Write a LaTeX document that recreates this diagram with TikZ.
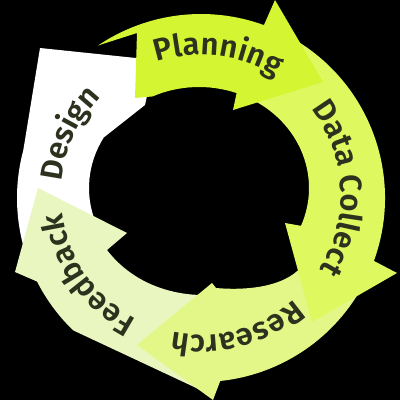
\documentclass[tikz,border=0pt]{standalone}
\usepackage{fontspec}
\setmainfont{Fira Sans}[BoldFont={Fira Sans SemiBold}]
\usetikzlibrary{calc,decorations.text}
\definecolor{cPlan}{RGB}{212,245,50}
\definecolor{cData}{RGB}{222,249,95}
\definecolor{cRes}{RGB}{226,247,135}
\definecolor{cFeed}{RGB}{233,246,192}
\definecolor{cDes}{RGB}{255,255,255}
\definecolor{txt}{RGB}{45,50,30}
\begin{document}
\begin{tikzpicture}[x=1pt,y=1pt,
  lbl/.style={decorate, decoration={text along path, text align=center, text color=txt}}]
\fill[black] (0,0) rectangle (400,400);
\useasboundingbox (0,0) rectangle (400,400);
\coordinate (Co) at (201,202);
\coordinate (Ci) at (199,212);
\coordinate (Ct) at (201,205);
% Design
\fill[cDes] ($(Ci)+(200:110 and 101)$) -- ($(Co)+(200:184)$) arc[start angle=200, end angle=165, radius=184] -- (40,352) -- (155,340) -- (145,295) -- ($(Ci)+(150:110 and 101)$) arc[start angle=150, end angle=200, x radius=110, y radius=101] -- cycle;
% Feedback
\fill[cFeed] (205,100) -- (207,7) -- ($(Co)+(226:184)$) arc[start angle=226, end angle=207, radius=184] -- (15,128) -- (38,212) -- (127,167) -- (107,150) .. controls (130,120) and (165,106) .. (200,105) -- cycle;
% Research
\fill[cRes] (305,138) -- ($(Co)+(-30:184)$) arc[start angle=-30, end angle=-84, radius=184] -- (213,0) -- (137,55) -- (212,117) -- (216,112) .. controls (250,109) and (290,114) .. (305,138) -- cycle;
% Data Collect
\fill[cData] ($(Ci)+(60:110 and 101)$) -- ($(Co)+(62:184)$) arc[start angle=62, end angle=-20, radius=184] -- (397,127) -- (312,78) -- (285,177) -- ($(Ci)+(-22:110 and 101)$) arc[start angle=-22, end angle=60, x radius=110, y radius=101] -- cycle;
% Planning
\fill[cPlan] (135,302) -- (137,367) -- ($(Co)+(124:184)$) arc[start angle=124, end angle=70, radius=184] -- (275,400) -- (323,318) -- (233,290) -- ($(Ci)+(70:110 and 101)$) arc[start angle=70, end angle=115, x radius=110, y radius=101] -- cycle;
% labels
\path[lbl, decoration={text={|\fontsize{31}{32}\selectfont\bfseries|Planning}}] ($(Ct)+(128:140)$) arc[start angle=128, end angle=38, radius=140];
\path[lbl, decoration={text={|\fontsize{31}{32}\selectfont\bfseries|Data Collect}}] ($(Ct)+(48:140)$) arc[start angle=48, end angle=-42, radius=140];
\path[lbl, decoration={text={|\fontsize{31}{32}\selectfont\bfseries|Research}}] ($(Ct)+(-30:140)$) arc[start angle=-30, end angle=-120, radius=140];
\path[lbl, decoration={text={|\fontsize{31}{32}\selectfont\bfseries|Feedback}}] ($(Ct)+(260:140)$) arc[start angle=260, end angle=170, radius=140];
\path[lbl, decoration={text={|\fontsize{31}{32}\selectfont\bfseries|Design}}] ($(Ct)+(200:140)$) arc[start angle=200, end angle=110, radius=140];
\end{tikzpicture}
\end{document}
